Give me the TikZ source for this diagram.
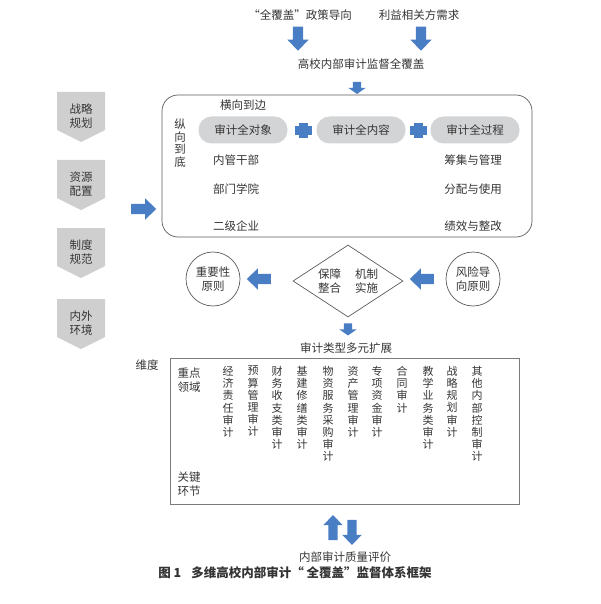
\documentclass[tikz,border=0pt]{standalone}
\usepackage{fontspec}
\setmainfont{Noto Sans CJK SC}
\newfontfamily\capfont{Noto Sans CJK SC}
\usetikzlibrary{shapes.arrows, shapes.geometric, positioning}

\definecolor{arrowblue}{HTML}{4A7EC4}
\definecolor{pillgray}{HTML}{D3D4D6}
\definecolor{pentgray}{HTML}{CFCFCF}
\definecolor{ink}{HTML}{353535}
\definecolor{framegray}{HTML}{5A5A5A}

\begin{document}
\begin{tikzpicture}[x=1pt, y=-1pt,
  every node/.style={text=ink, inner sep=0pt, font=\fontsize{11.5}{13}\selectfont},
  barrow/.style={single arrow, fill=arrowblue, draw=none, minimum height=24pt,
    inner sep=5pt, single arrow head extend=5.5pt, single arrow tip angle=88},
  sarrow/.style={barrow, minimum height=12pt, inner sep=4pt,
    single arrow head extend=4.5pt, single arrow tip angle=110},
  pill/.style={rectangle, rounded corners=13pt, fill=pillgray,
    minimum width=89pt, minimum height=27pt},
  ring/.style={circle, draw=framegray, line width=0.7pt, minimum size=54pt,
    align=center, font=\fontsize{11.5}{14.5}\selectfont},
  pentlabel/.style={align=center, font=\fontsize{11.5}{14}\selectfont},
  vcol/.style={anchor=north, align=center, font=\fontsize{11}{12.2}\selectfont},
  pair/.style={align=center, font=\fontsize{11.5}{14}\selectfont}]

\useasboundingbox (0,0) rectangle (600,604);

% top sources
\node (policy) at (300,15) {“全覆盖”政策导向};
\node (demand) at (419,15) {利益相关方需求};
\node[barrow, shape border rotate=270] (adown1) at (298,36) {};
\node[barrow, shape border rotate=270] (adown2) at (421,36) {};
\node (cover) at (361,64) {高校内部审计监督全覆盖};
\node[sarrow, shape border rotate=270] (adown3) at (357,86.5) {};

% main frame
\node[draw=framegray, line width=0.7pt, rounded corners=16pt,
  minimum width=370pt, minimum height=142pt] (frame) at (347,166) {};
\node (hori) at (243,105) {横向到边};
\node[align=center, font=\fontsize{11.5}{12.5}\selectfont] (vert) at (180,143) {纵\\向\\到\\底};

\node[pill] (obj) at (243,130) {审计全对象};
\node[pill] (cont) at (361,130) {审计全内容};
\node[pill] (proc) at (475,130) {审计全过程};
\foreach \px in {303.5,418.5} {
  \fill[arrowblue] (\px-8.5,126) rectangle (\px+8.5,135);
  \fill[arrowblue] (\px-4.5,123) rectangle (\px+4.5,138);
}

\node (cadre) at (236,160) {内管干部};
\node (dept) at (236,189) {部门学院};
\node (firm) at (236,226) {二级企业};
\node (raise) at (473,160) {筹集与管理};
\node (alloc) at (473,189) {分配与使用};
\node (perf) at (473,226) {绩效与整改};

% left factors
\foreach \t/\lab [count=\i] in {92/战略\\规划, 160/资源\\配置, 228/制度\\规范, 299/内外\\环境} {
  \fill[pentgray] (57,\t) -- (105,\t) -- (105,\t+38) -- (81,\t+50) -- (57,\t+38) -- cycle;
  \node[pentlabel] (fac\i) at (81,\t+24) {\lab};
}
\node[barrow, minimum height=25pt, shape border rotate=0] (aright) at (141,209) {};

% principles and mechanism
\node[ring] (imp) at (213,279) {重要性\\原则};
\node[ring] (risk) at (473,279) {风险导\\向原则};
\node[diamond, draw=framegray, line width=0.7pt, minimum width=110pt,
  minimum height=72pt] (mech) at (348,281) {};
\node[pair] at (mech) {保障\hspace{14pt}机制\\整合\hspace{14pt}实施};
\node[barrow, shape border rotate=180] (aleft1) at (261.5,279) {};
\node[barrow, shape border rotate=180] (aleft2) at (424.5,279) {};
\node[sarrow, shape border rotate=270] (adown4) at (348,328) {};

% audit types
\node (expand) at (346,348) {审计类型多元扩展};
\node[draw=framegray!80, line width=1pt, minimum width=349pt,
  minimum height=146pt] (types) at (344.5,431) {};
\node (dim) at (147,365) {维度};
\node[pair] (focus) at (189,380) {重点\\领域};
\node[pair] (key) at (189,484) {关键\\环节};
\foreach \cx/\txt in {228/经\\济\\责\\任\\审\\计, 253/预\\算\\管\\理\\审\\计,
  277/财\\务\\收\\支\\类\\审\\计, 302/基\\建\\修\\缮\\类\\审\\计,
  328/物\\资\\服\\务\\采\\购\\审\\计, 353/资\\产\\管\\理\\审\\计,
  377/专\\项\\资\\金\\审\\计, 402/合\\同\\审\\计,
  428/教\\学\\业\\务\\类\\审\\计, 452/战\\略\\规\\划\\审\\计,
  477/其\\他\\内\\部\\控\\制\\审\\计}
  \node[vcol] at (\cx,366) {\txt};

% evaluation
\node[barrow, minimum height=25pt, inner sep=4.5pt, single arrow head extend=5pt,
  shape border rotate=90] (aup) at (333,530) {};
\node[barrow, minimum height=25pt, inner sep=4.5pt, single arrow head extend=5pt,
  shape border rotate=270] (adown5) at (352,530) {};
\node (quality) at (345,557) {内部审计质量评价};

\node[font=\capfont\bfseries\fontsize{12.5}{14}\selectfont, text=black!80] (caption) at (295,573)
  {图 1\hspace{10pt}多维高校内部审计“ 全覆盖”监督体系框架};

\end{tikzpicture}
\end{document}
